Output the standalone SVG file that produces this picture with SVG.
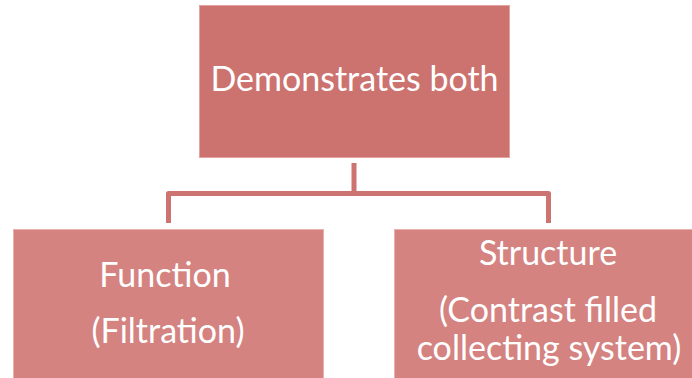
<svg xmlns="http://www.w3.org/2000/svg" width="692" height="378" viewBox="0 0 692 378">
<style>
.top{fill:#cc736f;stroke:#e5a3a0;stroke-width:1}
.bot{fill:#d48381;stroke:#e9b0ae;stroke-width:1}
.lbl{font-family:Lato,"Open Sans","Liberation Sans",sans-serif;fill:#ffffff;text-anchor:middle;font-size:34px}
.conn{fill:none;stroke:#cd7370;stroke-width:5}
</style>
<rect x="0" y="0" width="692" height="378" fill="#ffffff"/>
<g id="connectors">
<path class="conn" d="M354,163 V193.5 M168.5,223 V193.5 H548.5 V223" stroke-linejoin="round"/>
</g>
<g id="node-top">
<rect class="top" x="199.5" y="5.5" width="310" height="152"/>
<text class="lbl" x="354.5" y="91">Demonstrates both</text>
</g>
<g id="node-function">
<rect class="bot" x="13.5" y="229.5" width="310" height="152"/>
<text class="lbl" x="165" y="287">Function</text>
<text class="lbl" x="168" y="343">(Filtration)</text>
</g>
<g id="node-structure">
<rect class="bot" x="394.5" y="229.5" width="310" height="152"/>
<text class="lbl" x="548" y="265">Structure</text>
<text class="lbl" x="548" y="322">(Contrast filled</text>
<text class="lbl" x="549" y="360">collecting system)</text>
</g>
</svg>
